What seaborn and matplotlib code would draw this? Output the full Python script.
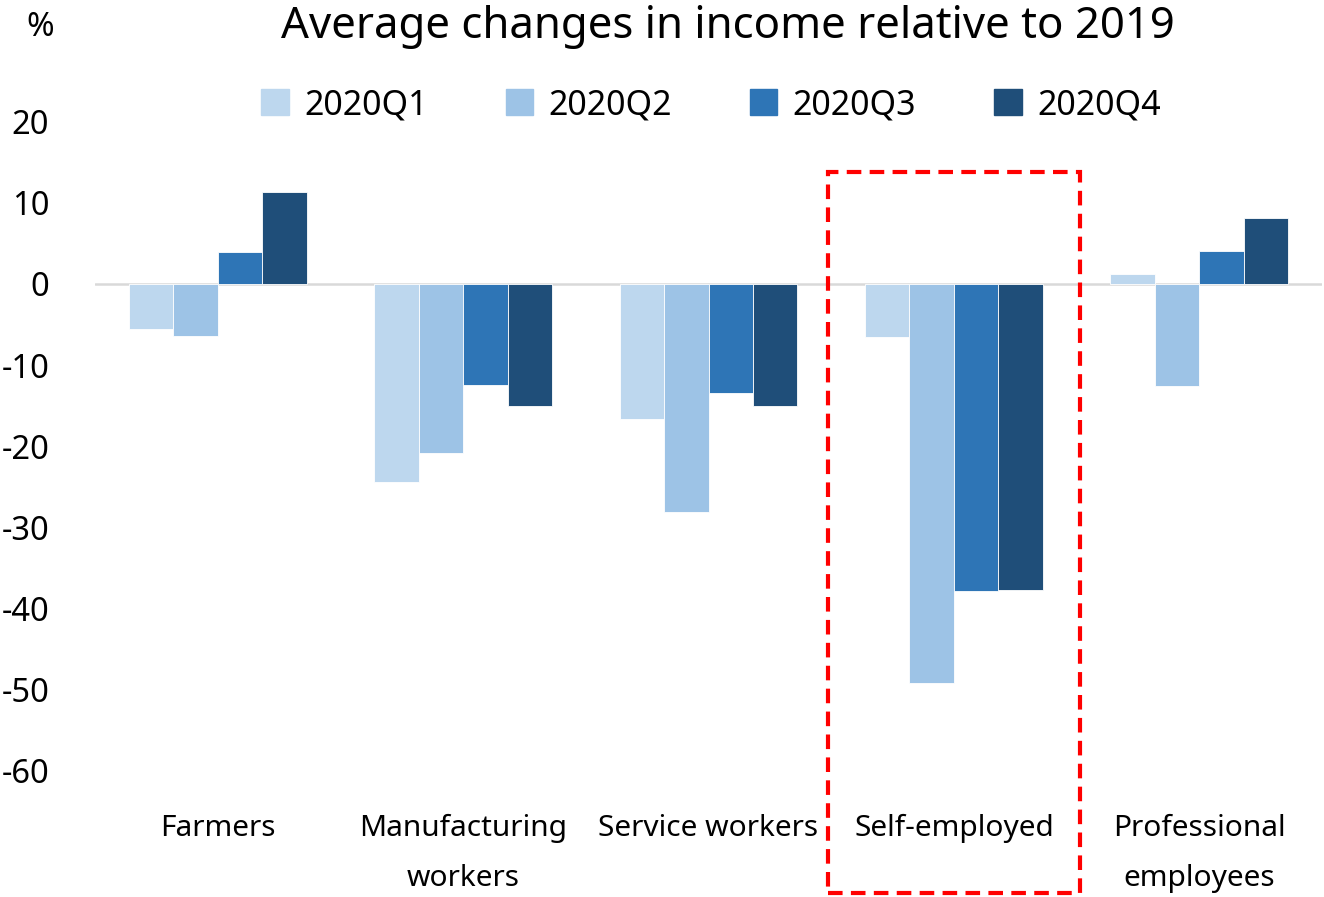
import matplotlib
matplotlib.use("Agg")
import matplotlib.pyplot as plt
import matplotlib.patches as mpatches
import seaborn as sns
import pandas as pd

categories = ["Farmers", "Manufacturing\nworkers", "Service workers", "Self-employed", "Professional\nemployees"]
quarters = ["2020Q1", "2020Q2", "2020Q3", "2020Q4"]
q1 = [-5.6, -24.4, -16.7, -6.5, 1.2]
q2 = [-6.4, -20.8, -28.1, -49.2, -12.6]
q3 = [3.9, -12.5, -13.5, -37.9, 4.1]
q4 = [11.3, -15.1, -15.0, -37.7, 8.1]
colors = ["#BDD7EE", "#9DC3E6", "#2E75B6", "#1F4E79"]
yticks = [20, 10, 0, -10, -20, -30, -40, -50, -60]

rows = []
for qname, vals in zip(quarters, [q1, q2, q3, q4]):
    for c, v in zip(categories, vals):
        rows.append({"category": c, "quarter": qname, "value": v})
df = pd.DataFrame(rows)

sns.set_theme(style="white")
plt.rcParams["font.family"] = ["Noto Sans", "DejaVu Sans"]
plt.rcParams["text.color"] = "black"
plt.rcParams["xtick.color"] = "black"
plt.rcParams["ytick.color"] = "black"

fig = plt.figure(figsize=(13.24, 8.97), dpi=100)
W, H = 1324, 897
ax = fig.add_axes([95 / W, (H - 770.6) / H, (1322 - 95) / W, (770.6 - 121.8) / H])

sns.barplot(data=df, x="category", y="value", hue="quarter", order=categories,
            hue_order=quarters, palette=colors, width=0.725, ax=ax,
            edgecolor="white", linewidth=0.6, legend=False, saturation=1)

ax.axhline(0, color="#D9D9D9", lw=1.8, zorder=0)
ax.set_xlim(-0.5, 4.5)
ax.set_ylim(-60, 20)
ax.set_yticks(yticks)
ax.set_yticklabels([str(t) for t in yticks], fontsize=23.5)
ax.tick_params(axis="y", length=0, pad=33)
ax.tick_params(axis="x", length=0, pad=31, labelsize=21.5)
for lbl in ax.get_xticklabels():
    lbl.set_linespacing(1.95)
    lbl.set_va("top")
ax.set_xlabel("")
ax.set_ylabel("")
for s in ax.spines.values():
    s.set_visible(False)

fig.text(728 / W, 1 - 27 / H, "Average changes in income relative to 2019",
         ha="center", va="center", fontsize=31.5)
fig.text(40 / W, 1 - 27 / H, "%", ha="center", va="center", fontsize=24)

handles = [mpatches.Patch(color=c, label=q) for c, q in zip(colors, quarters)]
fig.legend(handles=handles, loc="center", bbox_to_anchor=(711 / W, 1 - 105 / H),
           ncol=4, frameon=False, fontsize=24.5, handlelength=0.8, handleheight=0.8,
           handletextpad=0.45, columnspacing=2.3)

rect = mpatches.Rectangle((828 / W, 1 - 893 / H), (1080 - 828) / W, (893 - 172) / H,
                          transform=fig.transFigure, fill=False, edgecolor="#FF0000",
                          lw=3, linestyle=(0, (3.5, 2)), zorder=10)
fig.patches.append(rect)

fig.savefig("out.png", dpi=100)
